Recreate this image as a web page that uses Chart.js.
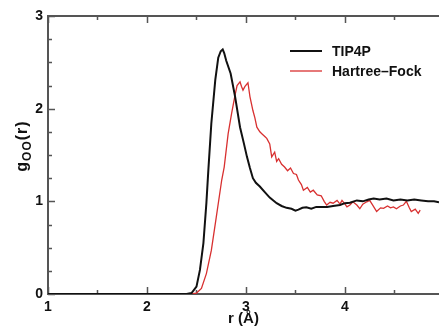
<!DOCTYPE html>
<html>
<head>
<meta charset="utf-8">
<script src="https://cdn.jsdelivr.net/npm/chart.js@4.4.1/dist/chart.umd.min.js"></script>
<style>
html,body{margin:0;padding:0;background:#fff;}
#wrap{width:439px;height:328px;}
</style>
</head>
<body>
<div id="wrap"><canvas id="c" width="439" height="328"></canvas></div>
<script>
// ---- data ----
const seriesNames = ["TIP4P", "Hartree\u2013Fock"];
const xTickLabels = [1, 2, 3, 4];
const yTickLabels = [0, 1, 2, 3];

const tip4pR = [1.0,2.40,2.45,2.50,2.535,2.57,2.60,2.62,2.65,2.69,
  2.72,2.745,2.765,2.78,2.80,2.845,2.89,2.94,2.98,3.01,
  3.04,3.07,3.10,3.14,3.19,3.24,3.31,3.36,3.41,3.46,
  3.50,3.53,3.57,3.61,3.66,3.71,3.76,3.82,3.88,3.95,
  4.00,4.05,4.12,4.18,4.24,4.29,4.35,4.42,4.49,4.56,
  4.63,4.70,4.77,4.84,4.90,4.95];
const tip4pG = [0,0,0.01,0.08,0.26,0.55,0.98,1.34,1.84,2.31,
  2.55,2.62,2.64,2.60,2.52,2.38,2.13,1.80,1.62,1.48,
  1.36,1.25,1.20,1.16,1.10,1.04,0.98,0.95,0.93,0.92,
  0.90,0.91,0.93,0.935,0.92,0.94,0.94,0.94,0.95,0.96,
  0.98,0.985,1.01,1.00,1.02,1.03,1.02,1.03,1.01,1.02,
  1.01,1.02,1.01,1.00,1.00,0.99];

const hfR = [1.0,2.45,2.50,2.55,2.60,2.65,2.70,2.755,2.78,2.82,
  2.855,2.89,2.91,2.94,2.955,2.97,2.99,3.02,3.04,3.07,
  3.09,3.11,3.14,3.16,3.19,3.21,3.24,3.26,3.29,3.31,3.33,
  3.36,3.39,3.42,3.45,3.48,3.51,3.53,3.56,3.58,3.62,
  3.65,3.68,3.72,3.76,3.79,3.815,3.85,3.88,3.92,3.95,
  3.97,4.00,4.02,4.05,4.08,4.12,4.15,4.18,4.22,4.25,
  4.28,4.32,4.36,4.39,4.43,4.46,4.49,4.52,4.56,4.59,
  4.62,4.65,4.67,4.71,4.74,4.76];
const hfG = [0,0,0.01,0.06,0.22,0.47,0.83,1.23,1.37,1.73,
  1.95,2.15,2.25,2.29,2.24,2.20,2.24,2.28,2.13,1.98,
  1.90,1.80,1.75,1.73,1.70,1.68,1.62,1.48,1.53,1.43,1.46,
  1.40,1.37,1.33,1.36,1.30,1.29,1.23,1.18,1.12,1.15,
  1.10,1.12,1.07,1.06,1.00,0.96,0.99,0.98,1.01,0.97,
  1.01,0.97,0.94,0.96,0.995,0.96,0.92,0.97,0.995,1.01,
  0.96,0.89,0.93,0.925,0.95,0.93,0.94,0.92,0.95,0.96,
  1.00,0.93,0.89,0.915,0.87,0.905];

const X_MIN = 1, X_MAX = 4.95, Y_MIN = 0, Y_MAX = 3;

function pts(xs, ys){ return xs.map((x,i)=>({x:x, y:ys[i]})); }

const FONT = "'Liberation Sans', Arial, Helvetica, sans-serif";
const AXIS_COLOR = '#555';

const framePlugin = {
  id: 'frame',
  beforeDatasetsDraw(chart){
    const {ctx, chartArea:a, scales:{x, y}} = chart;
    ctx.save();
    ctx.strokeStyle = AXIS_COLOR;
    ctx.lineWidth = 1.5;
    ctx.beginPath();
    for (let v = X_MIN; v <= X_MAX + 1e-9; v += 0.5) {
      const px = Math.round(x.getPixelForValue(v)) + 0.5;
      const len = Number.isInteger(v) ? 7 : 4;
      ctx.moveTo(px, a.bottom); ctx.lineTo(px, a.bottom - len);
      ctx.moveTo(px, a.top); ctx.lineTo(px, a.top + len);
    }
    for (let v = Y_MIN; v <= Y_MAX + 1e-9; v += 0.25) {
      const py = Math.round(y.getPixelForValue(v)) + 0.5;
      const len = Number.isInteger(v) ? 7 : 4;
      ctx.moveTo(a.left, py); ctx.lineTo(a.left + len, py);
    }
    ctx.stroke();
    ctx.lineWidth = 2;
    ctx.beginPath();
    ctx.moveTo(a.right, a.top); ctx.lineTo(a.left, a.top);
    ctx.lineTo(a.left, a.bottom); ctx.lineTo(a.right, a.bottom);
    ctx.stroke();
    ctx.restore();
  },
  afterDraw(chart){
    const {ctx} = chart;
    ctx.save();
    const items = chart.data.datasets;
    items.forEach((ds, i) => {
      const yy = 51 + i * 20;
      ctx.strokeStyle = ds.borderColor;
      ctx.lineWidth = ds.borderWidth;
      ctx.beginPath(); ctx.moveTo(290, yy); ctx.lineTo(322, yy); ctx.stroke();
      ctx.fillStyle = '#111';
      ctx.font = "bold 14px " + FONT;
      ctx.textBaseline = 'middle';
      ctx.textAlign = 'left';
      ctx.fillText(ds.label, 332, yy + 1);
    });
    // y-axis title g_OO(r)
    ctx.translate(27, 146);
    ctx.rotate(-Math.PI / 2);
    ctx.fillStyle = '#111';
    ctx.textBaseline = 'alphabetic';
    ctx.textAlign = 'left';
    ctx.letterSpacing = '1px';
    const f1 = "bold 16px " + FONT, f2 = "bold 12px " + FONT;
    ctx.font = f1; const wg = ctx.measureText('g').width;
    ctx.font = f2; const wo = ctx.measureText('OO').width;
    ctx.font = f1; const wr = ctx.measureText('(r)').width;
    let sx = -(wg + wo + wr) / 2;
    ctx.font = f1; ctx.fillText('g', sx, 0); sx += wg;
    ctx.font = f2; ctx.fillText('OO', sx, 4); sx += wo;
    ctx.font = f1; ctx.fillText('(r)', sx, 0);
    ctx.restore();
  }
};

new Chart(document.getElementById('c'), {
  type: 'scatter',
  data: {
    datasets: [
      { label: seriesNames[0], data: pts(tip4pR, tip4pG), showLine: true,
        borderColor: '#111111', borderWidth: 2, pointRadius: 0, tension: 0 },
      { label: seriesNames[1], data: pts(hfR, hfG), showLine: true,
        borderColor: '#d83030', borderWidth: 1.3, pointRadius: 0, tension: 0 }
    ]
  },
  options: {
    responsive: false,
    animation: false,
    devicePixelRatio: 1,
    layout: { padding: { top: 16, right: 0, left: 0, bottom: 0 } },
    plugins: { legend: { display: false }, tooltip: { enabled: false } },
    scales: {
      x: {
        type: 'linear', min: X_MIN, max: X_MAX,
        grid: { display: false, drawTicks: false },
        border: { display: false },
        afterFit(s){ s.height = 34; },
        afterBuildTicks(s){ s.ticks = xTickLabels.map(v => ({value: v})); },
        ticks: { padding: 5, color: '#111', font: { family: FONT, size: 14, weight: 'bold' },
                 maxRotation: 0, includeBounds: false, callback: v => v },
        title: { display: true, text: 'r (\u00C5)', color: '#111', padding: 0,
                 font: { family: FONT, size: 15, weight: 'bold' } }
      },
      y: {
        type: 'linear', min: Y_MIN, max: Y_MAX,
        grid: { display: false, drawTicks: false },
        border: { display: false },
        afterFit(s){ s.width = 48; },
        afterBuildTicks(s){ s.ticks = yTickLabels.map(v => ({value: v})); },
        ticks: { padding: 5, color: '#111', font: { family: FONT, size: 14, weight: 'bold' },
                 callback: v => v }
      }
    }
  },
  plugins: [framePlugin]
});
</script>
</body>
</html>
